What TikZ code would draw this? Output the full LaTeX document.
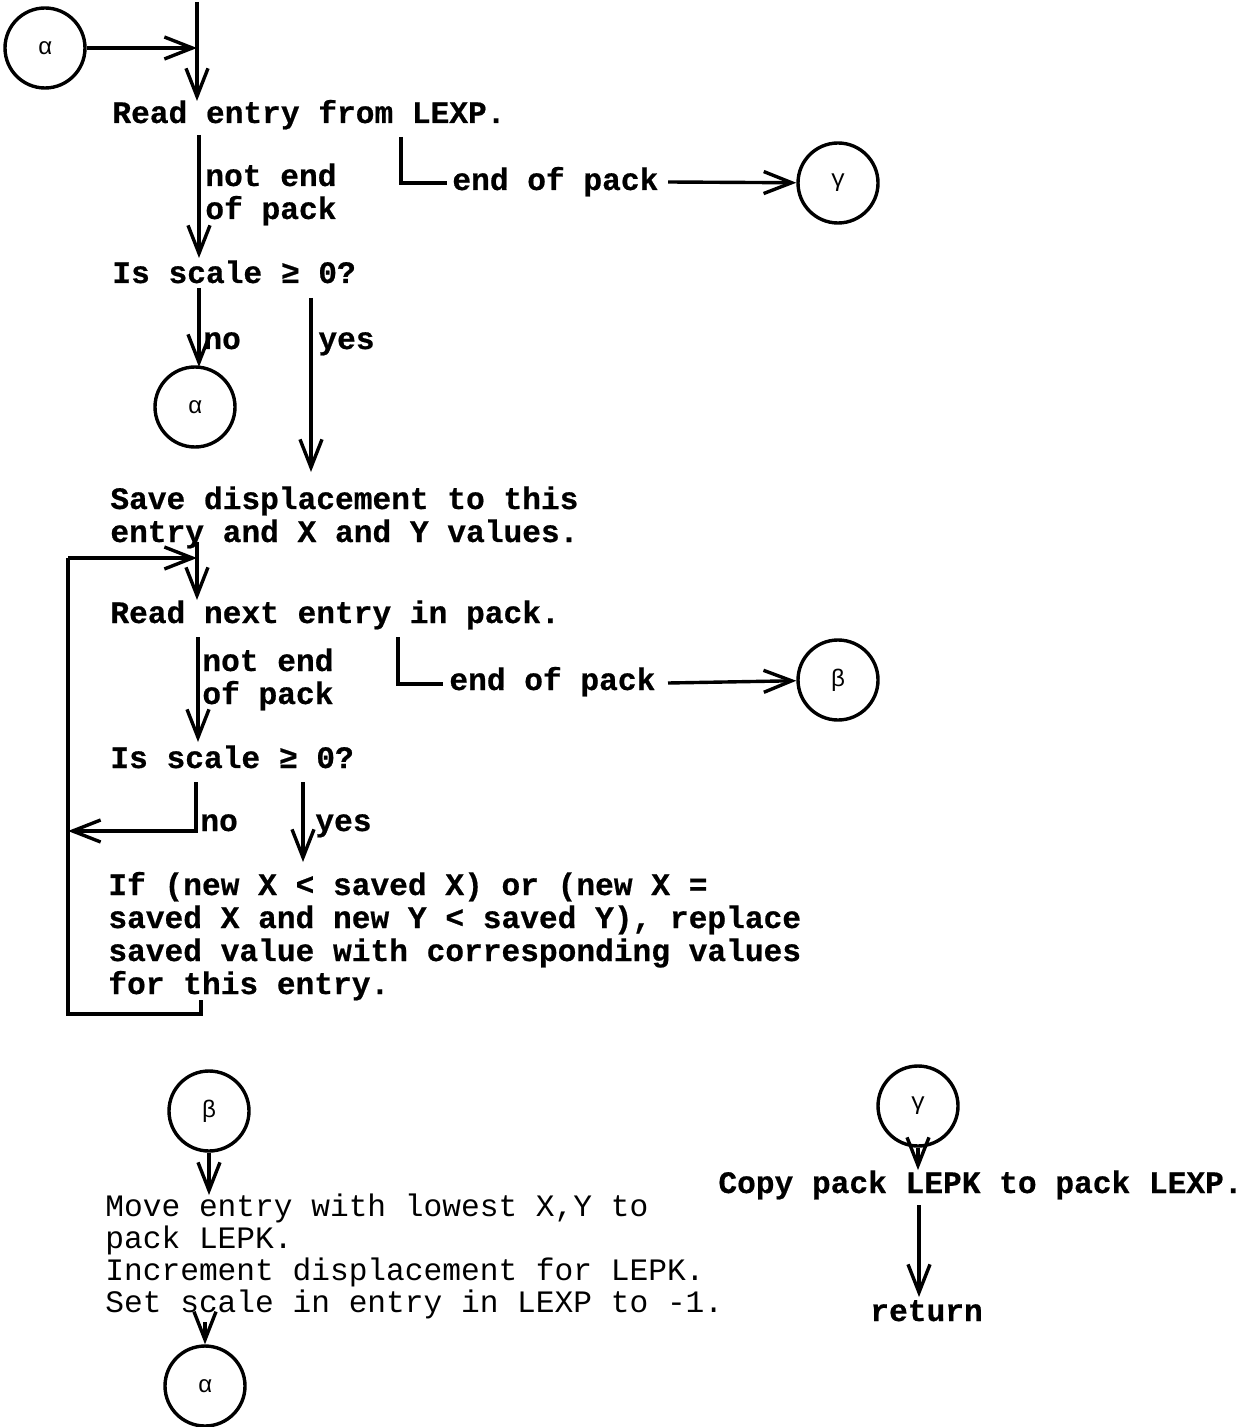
\documentclass[tikz,border=0pt]{standalone}
\usepackage{fontspec}
\setmonofont{Liberation Mono}[BoldFeatures={FakeBold=0.6}]
\usetikzlibrary{arrows.meta}
\begin{document}
\begin{tikzpicture}[x=0.5pt,y=-0.5pt,
  line/.style={line width=1.7pt},
  arr/.style={line width=1.7pt,-{Straight Barb[length=14pt,width=11pt]}},
  conn/.style={circle,draw,line width=1.7pt,minimum size=40pt,inner sep=0pt,font=\fontsize{12}{12}\selectfont\ttfamily},
  txt/.style={anchor=base west,inner sep=0pt,align=left,font=\fontsize{15.6}{16.5}\selectfont\ttfamily\bfseries},
  txtlight/.style={anchor=base west,inner sep=0pt,align=left,font=\fontsize{15.6}{16}\selectfont\ttfamily},
]
\useasboundingbox (0,0) rectangle (1251,1427);

% ---------- top part ----------
\node[conn] (a1) at (45,48) {α};
\coordinate (t0) at (197,2);
\coordinate (t1) at (197,48);
\node[txt] (r1) at (112,123) {Read entry from LEXP.};
\draw[arr] (t0) -- (197,101);
\draw[arr] (a1) -- (t1);

\coordinate (n1s) at (199,135);
\coordinate (n1e) at (199,258);
\draw[arr] (n1s) -- (n1e);
\node[txt] (l1) at (205,219) {not end\\of pack};

\coordinate (k1a) at (401,137);
\coordinate (k1b) at (401,183);
\coordinate (k1c) at (447,183);
\draw[line] (k1a) -- (k1b) -- (k1c);
\node[txt] (e1) at (452,190) {end of pack};
\node[conn] (g1) at (838,183) {γ};
\coordinate (e1s) at (668,182);
\draw[arr] (e1s) -- (g1);

\node[txt] (q1) at (112,283) {Is scale ≥ 0?};
\node[conn] (a2) at (195,407) {α};
\coordinate (no1s) at (199,288);
\coordinate (no1e) at (199,367);
\draw[arr] (no1s) -- (no1e);
\node[txt] (no1) at (203,349) {no};
\coordinate (y1s) at (311,298);
\coordinate (y1e) at (311,472);
\draw[arr] (y1s) -- (y1e);
\node[txt] (yes1) at (318,349) {yes};

\node[txt] (s1) at (110,542) {Save displacement to this\\entry and X and Y values.};

% ---------- loop ----------
\coordinate (lpa) at (201,1000);
\coordinate (lpb) at (201,1014);
\coordinate (lpc) at (68,1014);
\coordinate (lpd) at (68,558);
\coordinate (lpe) at (197,558);
\draw[line] (lpa) -- (lpb) -- (lpc) -- (lpd);
\draw[arr] (lpd) -- (lpe);
\coordinate (r2a) at (197,542);
\coordinate (r2b) at (197,600);
\draw[arr] (r2a) -- (r2b);
\node[txt] (r2) at (110,623) {Read next entry in pack.};

\coordinate (n2s) at (198,637);
\coordinate (n2e) at (198,742);
\draw[arr] (n2s) -- (n2e);
\node[txt] (l2) at (202,704) {not end\\of pack};

\coordinate (k2a) at (398,637);
\coordinate (k2b) at (398,684);
\coordinate (k2c) at (443,684);
\draw[line] (k2a) -- (k2b) -- (k2c);
\node[txt] (e2) at (449,690) {end of pack};
\node[conn] (b1) at (838,680) {β};
\coordinate (e2s) at (668,683);
\draw[arr] (e2s) -- (b1);

\node[txt] (q2) at (110,768) {Is scale ≥ 0?};
\coordinate (no2s) at (196,782);
\coordinate (no2b) at (196,831);
\coordinate (no2e) at (68,831);
\draw[arr] (no2s) -- (no2b) -- (no2e);
\node[txt] (no2) at (200,831) {no};
\coordinate (y2s) at (303,782);
\coordinate (y2e) at (303,862);
\draw[arr] (y2s) -- (y2e);
\node[txt] (yes2) at (315,831) {yes};

\node[txt] (if) at (108,994) {If (new X < saved X) or (new X =\\saved X and new Y < saved Y), replace\\saved value with corresponding values\\for this entry.};

% ---------- beta ----------
\node[conn] (b2) at (209,1111) {β};
\coordinate (b2e) at (209,1195);
\draw[arr] (b2) -- (b2e);
\node[txtlight] (mv) at (105,1312) {Move entry with lowest X,Y to\\pack LEPK.\\Increment displacement for LEPK.\\Set scale in entry in LEXP to -1.};
\node[conn] (a3) at (205,1386) {α};
\coordinate (mvs) at (205,1322);
\draw[arr] (mvs) -- (a3);

% ---------- gamma ----------
\node[conn] (g2) at (918,1106) {γ};
\coordinate (g2e) at (918,1170);
\draw[arr] (g2) -- (g2e);
\node[txt] (cp) at (718,1193) {Copy pack LEPK to pack LEXP.};
\coordinate (cps) at (919,1205);
\coordinate (cpe) at (919,1297);
\draw[arr] (cps) -- (cpe);
\node[txt] (ret) at (870,1321) {return};
\end{tikzpicture}
\end{document}
